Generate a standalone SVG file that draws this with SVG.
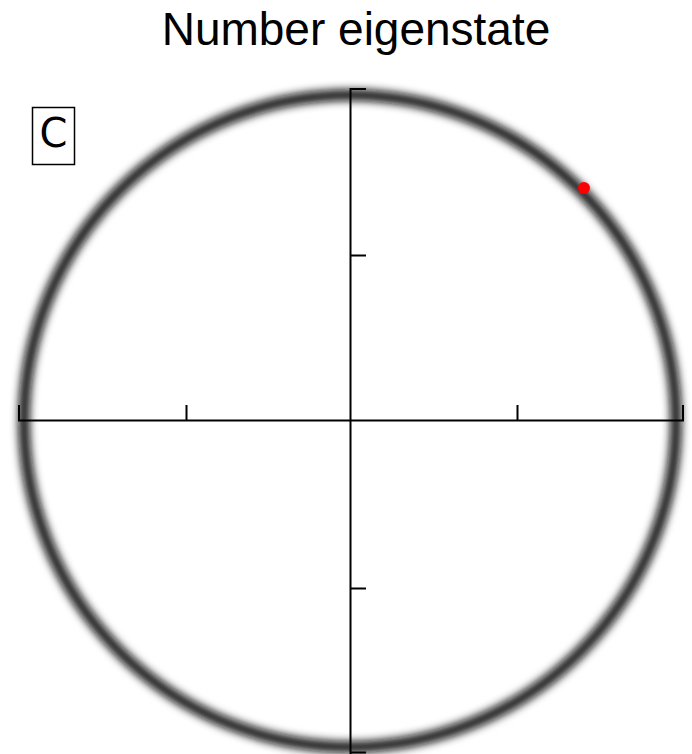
<svg xmlns="http://www.w3.org/2000/svg" width="692" height="754" viewBox="0 0 692 754">
<defs>
<filter id="blur" x="-10%" y="-10%" width="120%" height="120%"><feGaussianBlur stdDeviation="4"/></filter>
<style>
.axis{stroke:#000;stroke-width:2;fill:none}
.title{font-family:"Liberation Sans",Arial,sans-serif;font-size:46px;fill:#000}
.lbl{font-family:"DejaVu Sans",sans-serif;font-size:40px;fill:#000}
</style>
</defs>
<rect width="692" height="754" fill="#fff"/>
<text class="title" x="356" y="45" text-anchor="middle">Number eigenstate</text>
<g id="ring">
<circle cx="350" cy="421" r="326" fill="none" stroke="#111" stroke-width="11" filter="url(#blur)"/>
</g>
<g id="connectors">
<path class="axis" d="M18,420.5H684M19,405V420.5M683,405V420.5M186.5,405V420.5M517.5,405V420.5"/>
<path class="axis" d="M350.5,88V754M350.5,89H366M350.5,255.5H366M350.5,588.5H366M350.5,752.5H366"/>
</g>
<g id="point">
<circle cx="584" cy="188" r="6" fill="#ff0000"/>
</g>
<g id="label">
<rect x="32.5" y="107.5" width="42" height="57" fill="none" stroke="#000" stroke-width="1.5"/>
<text class="lbl" x="53.5" y="147" text-anchor="middle">C</text>
</g>
</svg>
